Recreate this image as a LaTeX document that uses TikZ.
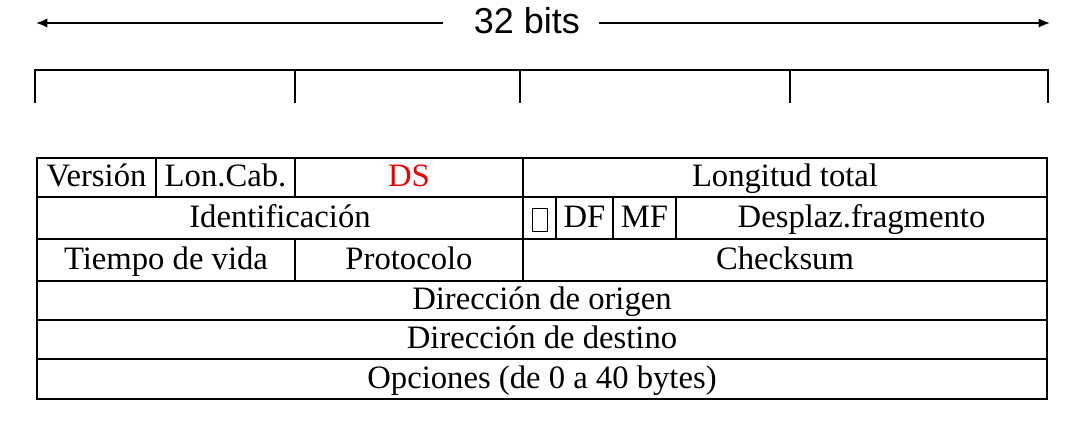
\documentclass[tikz,border=0pt]{standalone}
\usepackage{fontspec}
\setmainfont{Liberation Serif}
\newfontfamily\arialfont{Liberation Sans}
\usetikzlibrary{arrows.meta}
\definecolor{dsred}{RGB}{240,0,0}
\begin{document}
\begin{tikzpicture}[x=0.75pt,y=-0.75pt,
  wpx/.style={minimum width={#1*0.75pt}},
  hpx/.style={minimum height={#1*0.75pt}},
  cell/.style={draw, line width=1.4pt, inner sep=0pt, outer sep=0pt,
    font=\fontsize{24.5}{28}\selectfont, text height=16.5pt, text depth=2.3pt},
  rulerline/.style={line width=1.4pt},
  arrowline/.style={line width=1.4pt, -{Latex[length=8.5pt,width=7pt]}},
  tofu/.style={draw, line width=0.9pt, inner sep=0pt, outer sep=0pt}]
\useasboundingbox (0,0) rectangle (1066,429);
% title and arrows
\node[font=\arialfont\fontsize{27}{32}\selectfont, inner sep=0pt] (title) at (527,21) {32 bits};
\coordinate (lstart) at (443,23);
\coordinate (aleft) at (36,23);
\coordinate (rstart) at (599,23);
\coordinate (aright) at (1050,23);
\draw[arrowline] (lstart) -- (aleft);
\draw[arrowline] (rstart) -- (aright);
% ruler
\draw[rulerline] (35,103) -- (35,70) -- (1048,70) -- (1048,103);
\draw[rulerline] (295,70) -- (295,103);
\draw[rulerline] (520,70) -- (520,103);
\draw[rulerline] (790,70) -- (790,103);
% row 1
\node[cell, wpx=119, hpx=39] (version) at (96.5,177.5) {Versión};
\node[cell, wpx=139, hpx=39] (loncab) at (225.5,177.5) {Lon.Cab.};
\node[cell, wpx=228, hpx=39, text=dsred] (ds) at (409,177.5) {DS};
\node[cell, wpx=524, hpx=39] (longtotal) at (785,177.5) {Longitud total};
% row 2
\node[cell, wpx=486, hpx=42] (ident) at (280,218) {Identificación};
\node[cell, wpx=33, hpx=42] (flag0) at (539.5,218) {};
\node[tofu, wpx=15, hpx=23] (tofubox) at (540,220) {};
\node[cell, wpx=57, hpx=42] (df) at (584.5,218) {DF};
\node[cell, wpx=63, hpx=42] (mf) at (644.5,218) {MF};
\node[cell, wpx=371, hpx=42] (desplaz) at (861.5,218) {Desplaz.fragmento};
% row 3
\node[cell, wpx=258, hpx=42] (ttl) at (166,260) {Tiempo de vida};
\node[cell, wpx=228, hpx=42] (proto) at (409,260) {Protocolo};
\node[cell, wpx=524, hpx=42] (checksum) at (785,260) {Checksum};
% rows 4-6
\node[cell, wpx=1010, hpx=39] (origen) at (542,300.5) {Dirección de origen};
\node[cell, wpx=1010, hpx=39] (destino) at (542,339.5) {Dirección de destino};
\node[cell, wpx=1010, hpx=40] (opciones) at (542,379) {Opciones (de 0 a 40 bytes)};
\end{tikzpicture}
\end{document}
